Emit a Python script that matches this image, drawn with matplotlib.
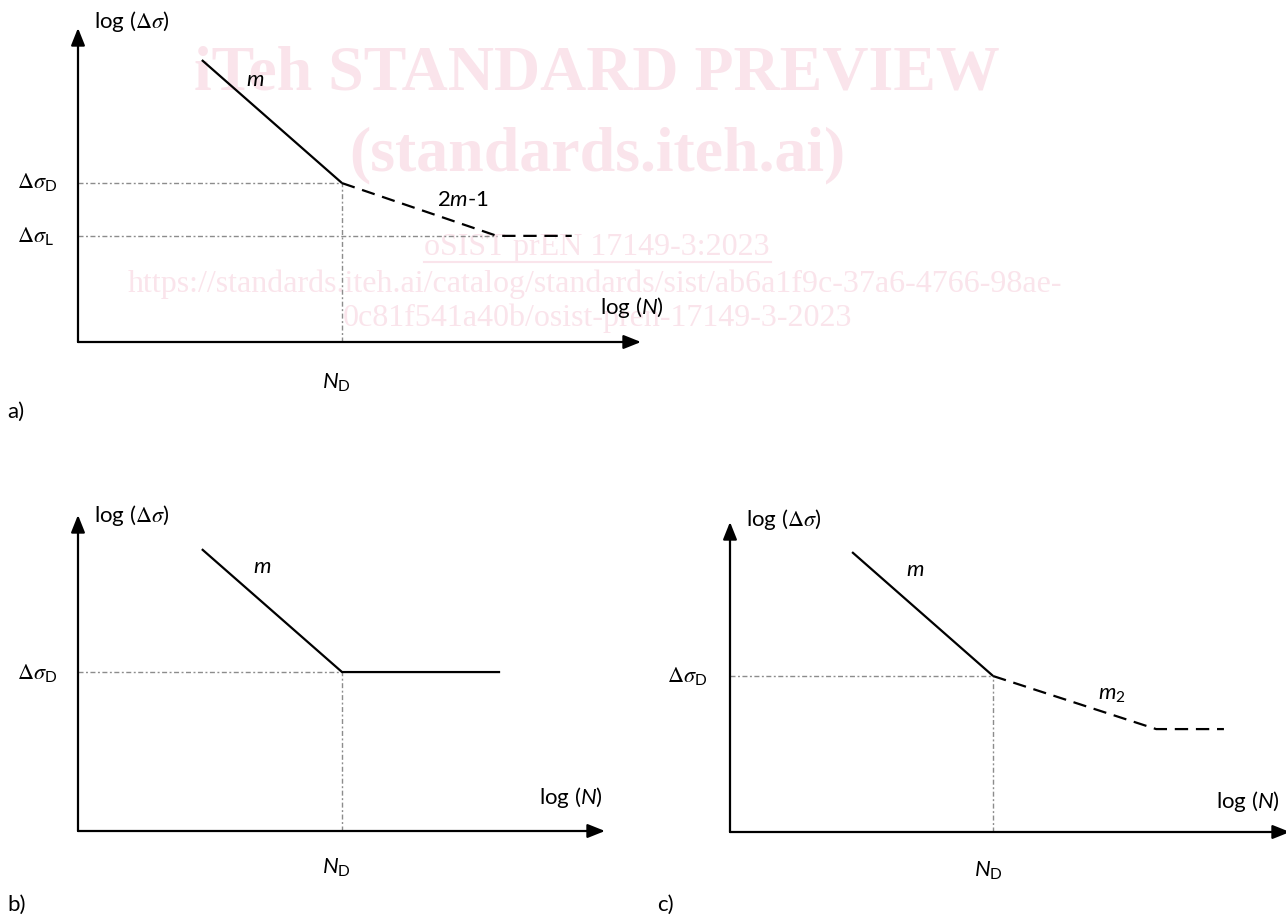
import matplotlib
matplotlib.use('Agg')
import matplotlib.pyplot as plt

plt.rcParams['mathtext.fontset'] = 'custom'
plt.rcParams['mathtext.rm'] = 'Lato'
plt.rcParams['mathtext.it'] = 'Lato:italic'
plt.rcParams['mathtext.cal'] = 'STIXGeneral'
plt.rcParams['mathtext.sf'] = 'STIXGeneral:italic'
plt.rcParams['font.family'] = ['Lato', 'DejaVu Sans']

# ---- data (normalised log N / log stress, origin = 0, arrow tip = 1) ----
a_logN_m = [0.220, 0.469]
a_logS_m = [0.898, 0.506]
a_logN_m2 = [0.469, 0.744, 0.877]
a_logS_m2 = [0.506, 0.338, 0.338]
a_ND = 0.469
a_SD = 0.506
a_SL = 0.338

b_logN_m = [0.235, 0.501, 0.801]
b_logS_m = [0.892, 0.503, 0.503]
b_ND = 0.501
b_SD = 0.503

c_logN_m = [0.218, 0.470]
c_logS_m = [0.903, 0.503]
c_logN_m2 = [0.470, 0.761, 0.882]
c_logS_m2 = [0.503, 0.332, 0.332]
c_ND = 0.470
c_SD = 0.503

W, H = 1286, 915
fig = plt.figure(figsize=(W / 100, H / 100), dpi=100)


def px(x, y):
    return x / W, 1 - y / H


def make_ax(ox, oy, tipx, tipy):
    l, b = px(ox, oy)
    ax = fig.add_axes([l, b, (tipx - ox) / W, (oy - tipy) / H])
    ax.set_xlim(0, 1)
    ax.set_ylim(0, 1)
    ax.axis('off')
    ax.patch.set_visible(False)
    ap = dict(arrowstyle='-|>,head_length=0.75,head_width=0.3', lw=1.6, color='black',
              shrinkA=0, shrinkB=0, mutation_scale=14)
    ax.annotate('', xy=(1, 0), xytext=(0, 0), xycoords='data', arrowprops=ap, annotation_clip=False)
    ax.annotate('', xy=(0, 1), xytext=(0, 0), xycoords='data', arrowprops=ap, annotation_clip=False)
    return ax


guide = dict(color='#8c8c8c', lw=1.0, linestyle=(0, (3.6, 1.8, 1.4, 1.8)))
solid = dict(color='black', lw=1.6, solid_capstyle='butt')
dash = dict(color='black', lw=1.6, linestyle=(0, (6, 3.5)))

# panel a
ax = make_ax(78, 342, 641, 28)
ax.plot([0, a_ND], [a_SD, a_SD], **guide)
ax.plot([0, a_logN_m2[1]], [a_SL, a_SL], **guide)
ax.plot([a_ND, a_ND], [0, a_SD], **guide)
ax.plot(a_logN_m, a_logS_m, **solid)
ax.plot(a_logN_m2, a_logS_m2, **dash)

# panel b
ax = make_ax(78, 831, 605, 515)
ax.plot([0, b_ND], [b_SD, b_SD], **guide)
ax.plot([b_ND, b_ND], [0, b_SD], **guide)
ax.plot(b_logN_m, b_logS_m, **solid)

# panel c
ax = make_ax(730, 832, 1290, 522)
ax.plot([0, c_ND], [c_SD, c_SD], **guide)
ax.plot([c_ND, c_ND], [0, c_SD], **guide)
ax.plot(c_logN_m, c_logS_m, **solid)
ax.plot(c_logN_m2, c_logS_m2, **dash)

fs = 16


def t(x, y, s, ha='center', size=fs, **kw):
    fig.text(*px(x, y), s, ha=ha, va='center', fontsize=size, **kw)


ylab = r'log ($\mathcal{\Delta}\mathsf{\sigma}$)'
xlab = r'log ($N$)'
ndlab = r'$N_{\mathrm{D}}$'
sdlab = r'$\mathcal{\Delta}\mathsf{\sigma}_{\mathrm{D}}$'
sllab = r'$\mathcal{\Delta}\mathsf{\sigma}_{\mathrm{L}}$'

# a labels
t(94, 22, ylab, ha='left')
t(255, 80, r'$m$')
t(463, 200, r'2$m$-1')
t(632, 308, xlab)
t(336, 383, ndlab)
t(17, 183, sdlab, ha='left')
t(17, 237, sllab, ha='left')
t(7, 412, 'a)', ha='left')

# b labels
t(94, 515, ylab, ha='left')
t(262, 567, r'$m$')
t(571, 798, xlab)
t(336, 868, ndlab)
t(17, 674, sdlab, ha='left')
t(7, 905, 'b)', ha='left')

# c labels
t(746, 520, ylab, ha='left')
t(915, 570, r'$m$')
t(1112, 695, r'$m_2$')
t(1248, 801, xlab)
t(988, 871, ndlab)
t(667, 677, sdlab, ha='left')
t(657, 905, 'c)', ha='left')

# watermark
wm = '#fae4eb'
wkw = dict(family='Liberation Serif', color=wm, ha='center', va='center', zorder=-5)
fig.text(*px(597, 75), 'iTeh STANDARD PREVIEW', fontsize=46, fontweight='bold', **wkw)
fig.text(*px(597, 155), '(standards.iteh.ai)', fontsize=46, fontweight='bold', **wkw)
fig.text(*px(597, 248), 'oSIST prEN 17149-3:2023', fontsize=23, **wkw)
fig.text(*px(595, 284), 'https://standards.iteh.ai/catalog/standards/sist/ab6a1f9c-37a6-4766-98ae-', fontsize=23, **wkw)
fig.text(*px(597, 318), '0c81f541a40b/osist-pren-17149-3-2023', fontsize=23, **wkw)
fig.add_artist(plt.Line2D([424 / W, 771 / W], [1 - 262 / H, 1 - 262 / H], color=wm, lw=1.5, zorder=-5))

fig.savefig('out.png', dpi=100)
